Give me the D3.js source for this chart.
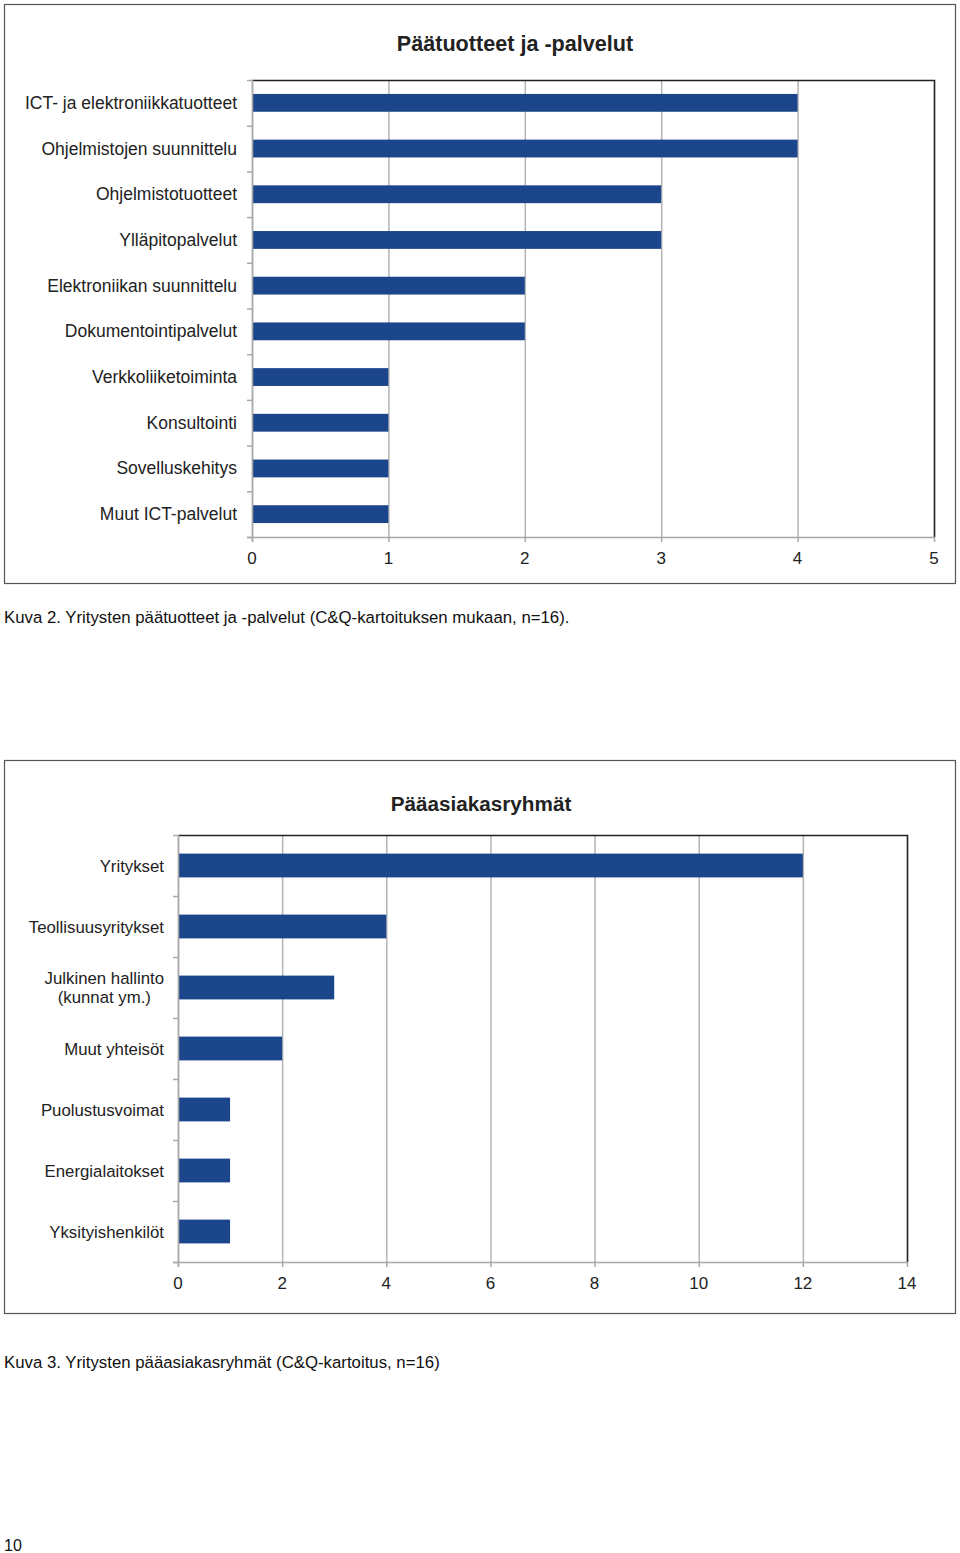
<!DOCTYPE html>
<html>
<head>
<meta charset="utf-8">
<script src="https://cdn.jsdelivr.net/npm/d3@7"></script>
<style>
  body { margin: 0; background: #fff; }
  svg text { font-family: "Liberation Sans", Arial, sans-serif; }
</style>
</head>
<body>
<svg id="page" width="960" height="1553"></svg>
<script>
// Chart 1: main products and services
var productLabels = ["ICT- ja elektroniikkatuotteet", "Ohjelmistojen suunnittelu", "Ohjelmistotuotteet",
  "Ylläpitopalvelut", "Elektroniikan suunnittelu", "Dokumentointipalvelut", "Verkkoliiketoiminta",
  "Konsultointi", "Sovelluskehitys", "Muut ICT-palvelut"];
var productValues = [4, 4, 3, 3, 2, 2, 1, 1, 1, 1];
var productTicks = [0, 1, 2, 3, 4, 5];

// Chart 2: main customer groups
var customerLabels = ["Yritykset", "Teollisuusyritykset", "Julkinen hallinto\n(kunnat ym.)",
  "Muut yhteisöt", "Puolustusvoimat", "Energialaitokset", "Yksityishenkilöt"];
var customerValues = [12, 4, 3, 2, 1, 1, 1];
var customerTicks = [0, 2, 4, 6, 8, 10, 12, 14];

var barColor = "#1b468b";
var svg = d3.select("#page");

function drawChart(opt) {
  var g = svg.append("g");

  // outer frame
  g.append("rect")
    .attr("x", opt.box[0] + 0.5).attr("y", opt.box[1] + 0.5)
    .attr("width", opt.box[2]).attr("height", opt.box[3])
    .attr("fill", "none").attr("stroke", "#555").attr("stroke-width", 1.2);

  g.append("text")
    .attr("x", opt.titleX).attr("y", opt.titleY)
    .attr("text-anchor", "middle")
    .style("font-size", opt.titleSize + "px").style("font-weight", "bold").style("fill", "#222")
    .text(opt.title);

  var x = d3.scaleLinear().domain([0, opt.max]).range([opt.left, opt.right]);
  var y = d3.scaleBand().domain(opt.labels).range([opt.top, opt.bottom]).paddingInner(0.61).paddingOuter(0.305);
  var band = d3.scaleBand().domain(opt.labels).range([opt.top, opt.bottom]);

  // gridlines
  g.selectAll(".grid").data(opt.ticks).enter().append("line")
    .attr("x1", function (d) { return x(d) + 0.5; })
    .attr("x2", function (d) { return x(d) + 0.5; })
    .attr("y1", opt.top).attr("y2", opt.bottom)
    .attr("stroke", "#b4b4b4").attr("stroke-width", 1.5);

  // top and right border of the plot area
  g.append("path")
    .attr("d", "M" + opt.left + "," + (opt.top + 0.5) + "H" + (opt.right + 0.5) + "V" + opt.bottom)
    .attr("fill", "none").attr("stroke", "#222").attr("stroke-width", 1.5);

  // bars
  g.selectAll(".bar").data(opt.values).enter().append("rect")
    .attr("x", x(0) + 1)
    .attr("y", function (d, i) { return y(opt.labels[i]); })
    .attr("width", function (d) { return x(d) - x(0) - 1; })
    .attr("height", y.bandwidth())
    .attr("fill", barColor);

  // left axis with ticks at band boundaries
  var bounds = opt.labels.map(function (l) { return band(l); }).concat([opt.bottom]);
  g.append("line")
    .attr("x1", opt.left + 0.5).attr("x2", opt.left + 0.5)
    .attr("y1", opt.top).attr("y2", opt.bottom + 5)
    .attr("stroke", "#a8a8a8").attr("stroke-width", 1.5);
  g.selectAll(".ytick").data(bounds).enter().append("line")
    .attr("x1", opt.left - 5).attr("x2", opt.left)
    .attr("y1", function (d) { return d + 0.5; }).attr("y2", function (d) { return d + 0.5; })
    .attr("stroke", "#a8a8a8").attr("stroke-width", 1.5);

  // bottom axis
  g.append("line")
    .attr("x1", opt.left - 5).attr("x2", opt.right + 1)
    .attr("y1", opt.bottom + 0.5).attr("y2", opt.bottom + 0.5)
    .attr("stroke", "#a8a8a8").attr("stroke-width", 1.5);
  g.selectAll(".xtick").data(opt.ticks).enter().append("line")
    .attr("x1", function (d) { return x(d) + 0.5; })
    .attr("x2", function (d) { return x(d) + 0.5; })
    .attr("y1", opt.bottom).attr("y2", opt.bottom + 5)
    .attr("stroke", "#a8a8a8").attr("stroke-width", 1.5);
  g.selectAll(".xlabel").data(opt.ticks).enter().append("text")
    .attr("x", function (d) { return x(d); })
    .attr("y", opt.bottom + 27)
    .attr("text-anchor", "middle")
    .style("font-size", "17px").style("fill", "#222")
    .text(function (d) { return d; });

  // category labels (multi-line ones are centred on the widest line)
  opt.labels.forEach(function (l) {
    var lines = l.split("\n");
    var cy = band(l) + band.bandwidth() / 2;
    var t = g.append("text")
      .attr("y", cy + 6 - (lines.length - 1) * 9.5)
      .style("font-size", opt.labelSize + "px").style("fill", "#222");
    var spans = lines.map(function (s, i) {
      return t.append("tspan").attr("dy", i ? 19 : 0).text(s);
    });
    if (lines.length === 1) {
      t.attr("text-anchor", "end");
      spans[0].attr("x", opt.labelX);
    } else {
      var w = d3.max(spans, function (s) { return s.node().getComputedTextLength(); });
      t.attr("text-anchor", "middle");
      spans.forEach(function (s) { s.attr("x", opt.labelX - w / 2); });
    }
  });

  svg.append("text")
    .attr("x", 4).attr("y", opt.captionY)
    .style("font-size", "16.8px").style("fill", "#111")
    .text(opt.caption);
}

drawChart({
  box: [4, 4, 951, 579], title: "Päätuotteet ja -palvelut", titleX: 515, titleY: 51, titleSize: 21.6,
  labels: productLabels, values: productValues, ticks: productTicks, max: 5,
  left: 252, right: 934, top: 80, bottom: 537, labelX: 237, labelSize: 17.5,
  caption: "Kuva 2. Yritysten päätuotteet ja -palvelut (C&Q-kartoituksen mukaan, n=16).", captionY: 623
});

drawChart({
  box: [4, 760, 951, 553], title: "Pääasiakasryhmät", titleX: 481, titleY: 811, titleSize: 20.7,
  labels: customerLabels, values: customerValues, ticks: customerTicks, max: 14,
  left: 178, right: 907, top: 835, bottom: 1262, labelX: 164, labelSize: 16.8,
  caption: "Kuva 3. Yritysten pääasiakasryhmät (C&Q-kartoitus, n=16)", captionY: 1368
});

svg.append("text")
  .attr("x", 4).attr("y", 1551)
  .style("font-size", "16px").style("fill", "#111")
  .text("10");
</script>
</body>
</html>
